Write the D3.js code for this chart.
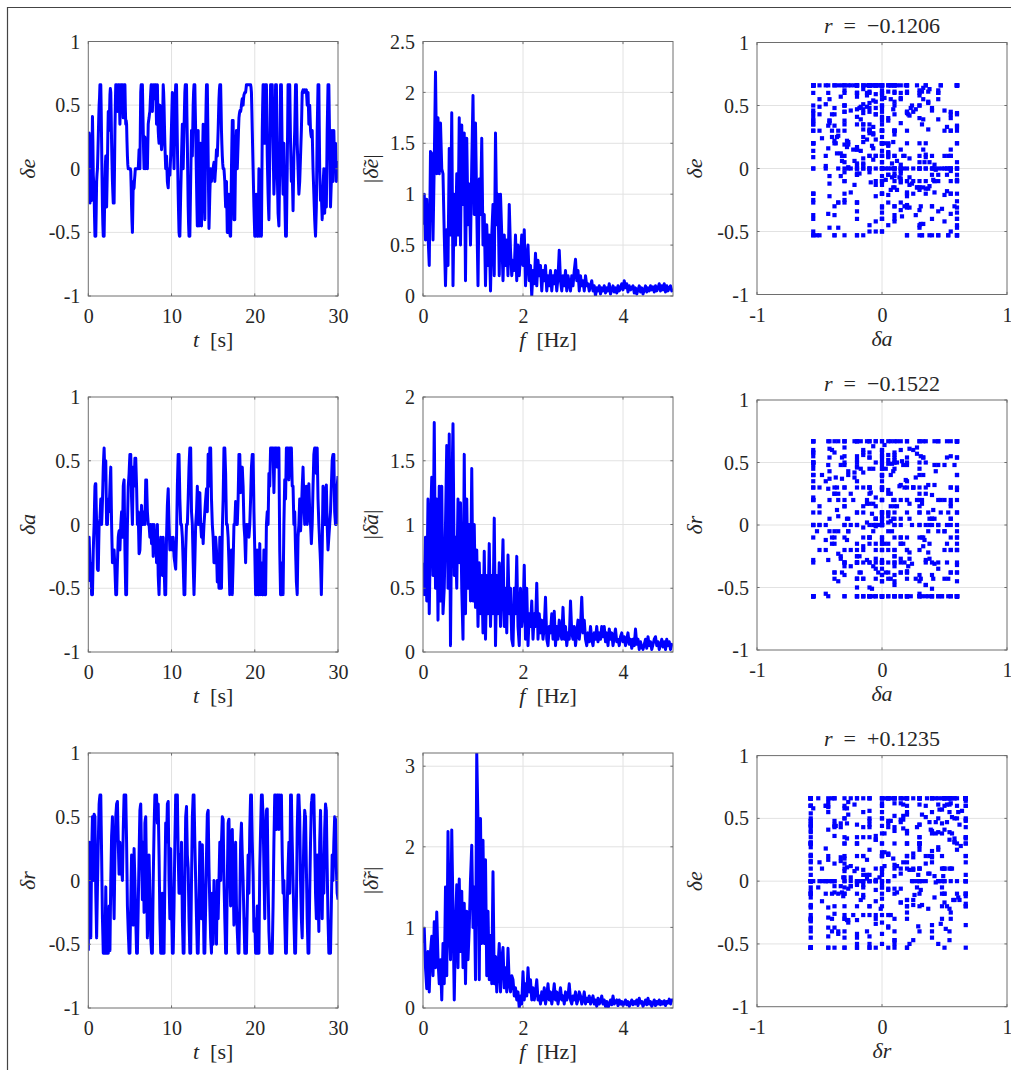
<!DOCTYPE html>
<html><head><meta charset="utf-8">
<script src="https://cdn.jsdelivr.net/npm/d3@7"></script>
<style>
body{margin:0;background:#fff;overflow:hidden}
svg text{font-family:"Liberation Serif","Times New Roman",serif;fill:#262626}
</style></head>
<body><svg id="c" width="1011" height="1070"></svg>
<script>
// ---------------- data ----------------
const timeStep = 0.05; // s
const deltaE = [
0,0.17,0.28,0.04,-0.27,-0.06,0.26,0.02,-0.25,0.14,0.41,0.22,-0.05,-0.11,-0.2,-0.38,-0.53,-0.53,-0.53,-0.33,
-0.1,-0.04,0,0.12,0.25,0.39,0.5,0.56,0.66,0.66,0.66,0.47,0.2,-0.07,-0.3,-0.44,-0.53,-0.53,-0.53,-0.32,
-0.1,0.03,0.1,-0.12,-0.3,-0.13,0.05,0.27,0.45,0.36,0.3,0.44,0.58,0.63,0.6,0.42,0.2,0.04,-0.1,-0.19,
-0.27,-0.27,-0.27,0.01,0.3,0.51,0.66,0.66,0.66,0.55,0.45,0.57,0.66,0.66,0.66,0.49,0.35,0.52,0.66,0.66,
0.66,0.66,0.66,0.53,0.4,0.55,0.66,0.66,0.66,0.48,0.35,0.38,0.35,0.21,0.1,0.03,0,0,0,0,
0,0,-0.02,-0.14,-0.3,-0.42,-0.5,-0.31,-0.1,-0.16,-0.15,-0.09,-0.05,0,0,0,0,0,0,0,
0,0.07,0.15,0.06,0,0.31,0.6,0.66,0.66,0.66,0.66,0.48,0.3,0.12,0,0.13,0.25,0.1,0,0.09,
0.2,0.08,0,0.18,0.35,0.38,0.4,0.43,0.45,0.53,0.6,0.66,0.66,0.54,0.45,0.58,0.66,0.6,0.55,0.61,
0.66,0.66,0.66,0.49,0.35,0.51,0.66,0.47,0.3,0.24,0.2,0.36,0.5,0.41,0.3,0.21,0.15,0.19,0.25,0.46,
0.66,0.6,0.5,0.34,0.2,0.09,0,0.06,0.1,0,-0.1,-0.13,-0.15,-0.07,0,-0.03,-0.05,0.03,0.1,0.23,
0.35,0.48,0.6,0.44,0.3,0.14,0,0.22,0.45,0.57,0.66,0.66,0.66,0.43,0.2,-0.01,-0.2,-0.36,-0.5,-0.53,
-0.53,-0.37,-0.2,-0.06,0.1,0.23,0.35,0.17,0,0.16,0.3,0.46,0.6,0.66,0.66,0.66,0.66,0.41,0.2,-0.06,
-0.3,-0.44,-0.53,-0.53,-0.53,-0.31,-0.1,0.11,0.3,0.19,0.1,0.31,0.5,0.6,0.66,0.66,0.66,0.47,0.3,0.09,
-0.1,-0.29,-0.45,-0.08,0.3,-0.09,-0.45,-0.27,-0.1,0.06,0.2,-0.13,-0.45,-0.22,0,0.18,0.35,0.16,0,-0.21,
-0.4,-0.04,0.3,0.5,0.66,0.66,0.66,0.39,0.1,-0.19,-0.47,-0.34,-0.2,-0.09,0,-0.05,-0.1,-0.04,0,0,
0,0.03,0.05,-0.03,-0.1,-0.04,0,0.08,0.15,0.12,0.1,0.2,0.3,0.43,0.55,0.62,0.66,0.66,0.66,0.49,
0.3,0.19,0.1,0.04,0,0,0,-0.05,-0.1,-0.21,-0.3,-0.19,-0.1,-0.31,-0.5,-0.5,-0.5,-0.34,-0.2,-0.36,
-0.5,-0.53,-0.53,-0.27,0,0.2,0.38,0.38,0.38,0,-0.4,-0.4,-0.4,-0.15,0.1,0.21,0.3,0.14,0,0.1,
0.2,0.31,0.4,0.43,0.45,0.46,0.45,0.47,0.5,0.53,0.55,0.52,0.5,0.55,0.58,0.59,0.6,0.6,0.6,0.63,
0.66,0.66,0.66,0.66,0.66,0.66,0.66,0.66,0.66,0.66,0.66,0.64,0.6,0.46,0.3,0.15,0,-0.15,-0.3,-0.42,
-0.53,-0.53,-0.53,-0.37,-0.2,-0.37,-0.53,-0.53,-0.53,-0.27,0,-0.27,-0.53,-0.47,-0.4,-0.47,-0.53,-0.12,0.3,0.5,
0.66,0.66,0.66,0.43,0.2,0.44,0.66,0.66,0.66,0.38,0.1,-0.05,-0.2,-0.31,-0.4,-0.16,0.1,0.39,0.66,0.66,
0.66,0.66,0.66,0.44,0.2,0,-0.2,-0.1,0,0.34,0.66,0.66,0.66,0.33,0,-0.18,-0.35,-0.4,-0.45,-0.22,
0,0.34,0.66,0.66,0.66,0.38,0.1,-0.06,-0.2,0,0.2,0,-0.2,-0.37,-0.53,-0.53,-0.53,-0.26,0,0.33,
0.66,0.66,0.66,0.66,0.66,0.43,0.2,0.05,-0.1,-0.05,0,-0.17,-0.33,-0.11,0.1,0.2,0.3,0.48,0.66,0.66,
0.66,0.43,0.2,0.1,0,-0.1,-0.2,-0.15,-0.1,0,0.1,0.2,0.3,0.45,0.6,0.61,0.62,0.61,0.6,0.61,
0.62,0.61,0.6,0.61,0.62,0.56,0.5,0.55,0.6,0.48,0.35,0.43,0.5,0.4,0.3,0.27,0.25,0.28,0.3,0.15,
0,-0.1,-0.2,-0.3,-0.4,-0.47,-0.53,-0.42,-0.3,0,0.3,0.48,0.66,0.66,0.66,0.33,0,-0.13,-0.25,-0.22,
-0.2,-0.3,-0.4,-0.27,-0.15,-0.07,0,-0.17,-0.35,-0.17,0,-0.15,-0.3,0,0.3,0.48,0.66,0.66,0.66,0.43,
0.2,-0.05,-0.3,-0.2,-0.1,0.1,0.3,0.1,-0.1,0.1,0.3,0.15,0,0.1,0.2,0.05,-0.1,-0.02,0.05,0.05,
0.05];
const deltaA = [
-0.45,-0.28,-0.1,-0.2,-0.3,-0.33,-0.35,-0.45,-0.55,-0.55,-0.55,-0.38,-0.2,-0.09,0,0.16,0.3,0.32,0.32,0.15,
0,-0.18,-0.35,-0.36,-0.36,-0.17,0,0.02,0.05,0.12,0.2,0.09,0,0.08,0.18,0.31,0.45,0.53,0.6,0.48,
0.35,0.42,0.5,0.24,0,0,0,0.1,0.2,0.15,0.1,0.2,0.3,0.38,0.45,0.22,0,-0.15,-0.3,-0.25,
-0.2,-0.2,-0.2,-0.27,-0.35,-0.45,-0.55,-0.55,-0.55,-0.42,-0.3,-0.2,-0.1,-0.07,-0.05,-0.12,-0.2,-0.1,0,0.05,
0.1,0,-0.1,0.1,0.3,0.33,0.35,0.07,-0.2,-0.38,-0.55,-0.55,-0.55,-0.27,0,0.15,0.3,0.35,0.4,0.48,
0.55,0.55,0.55,0.38,0.2,0.1,0,0.22,0.45,0.37,0.3,0.41,0.52,0.52,0.52,0.41,0.3,0.15,0,0.05,
0.1,-0.07,-0.23,-0.22,-0.2,-0.1,0,0.07,0.15,0.07,0,0,0,0.05,0.1,0.05,0,0.17,0.35,0.35,
0.35,0.22,0.1,0.05,0,0,0,-0.05,-0.1,-0.05,0,-0.08,-0.15,-0.07,0,-0.12,-0.25,-0.12,0,-0.1,
-0.2,-0.12,-0.05,-0.17,-0.3,-0.15,0,-0.2,-0.4,-0.48,-0.55,-0.42,-0.3,-0.2,-0.1,-0.15,-0.2,-0.3,-0.4,-0.25,
-0.1,-0.2,-0.3,-0.43,-0.55,-0.55,-0.55,-0.32,-0.1,0.03,0.15,0.22,0.28,0.14,0,-0.1,-0.2,-0.15,-0.1,-0.12,
-0.15,-0.18,-0.2,-0.15,-0.1,-0.17,-0.25,-0.28,-0.3,-0.33,-0.35,-0.22,-0.1,0.1,0.3,0.43,0.55,0.55,0.55,0.38,
0.2,0.1,0,0,0,-0.05,-0.1,-0.2,-0.3,-0.43,-0.55,-0.55,-0.55,-0.38,-0.2,-0.1,0,0,0,0.1,
0.2,0.33,0.45,0.53,0.6,0.6,0.6,0.35,0.1,0.05,0,-0.15,-0.3,-0.43,-0.55,-0.43,-0.3,-0.15,0,0.05,
0.1,0.2,0.3,0.15,0,0.03,0.05,0.15,0.25,0.12,0,-0.05,-0.1,-0.05,0,-0.08,-0.15,-0.07,0,0.05,
0.1,0.15,0.2,0.24,0.28,0.19,0.1,0.33,0.55,0.42,0.3,0.45,0.6,0.6,0.6,0.4,0.2,0.1,0,-0.05,
-0.1,-0.2,-0.3,-0.3,-0.3,-0.2,-0.1,-0.15,-0.2,-0.33,-0.45,-0.38,-0.3,-0.4,-0.5,-0.3,-0.1,-0.3,-0.5,-0.5,
-0.5,-0.27,-0.05,0.08,0.2,0.4,0.6,0.6,0.6,0.5,0.4,0.2,0,0,0,-0.05,-0.1,-0.2,-0.3,-0.43,
-0.55,-0.52,-0.5,-0.35,-0.2,-0.37,-0.55,-0.42,-0.3,-0.15,0,0,0,0.09,0.18,0.09,0,0,0,0.1,
0.2,0.37,0.55,0.55,0.55,0.4,0.25,0.27,0.3,0.37,0.45,0.37,0.3,0.15,0,-0.05,-0.1,-0.2,-0.3,-0.15,
0,-0.03,-0.05,-0.02,0,-0.05,-0.1,-0.05,0,0.1,0.2,0.33,0.45,0.5,0.55,0.55,0.55,0.33,0.1,-0.05,
-0.2,-0.38,-0.55,-0.55,-0.55,-0.38,-0.2,-0.38,-0.55,-0.55,-0.55,-0.35,-0.15,-0.35,-0.55,-0.42,-0.3,-0.42,-0.55,-0.55,
-0.55,-0.38,-0.2,-0.38,-0.55,-0.55,-0.55,-0.27,0,0.05,0.1,0.05,0,0.2,0.4,0.35,0.3,0.45,0.6,0.6,
0.6,0.6,0.6,0.6,0.6,0.42,0.25,0.42,0.6,0.6,0.6,0.6,0.6,0.52,0.45,0.52,0.6,0.6,0.6,0.2,
-0.2,-0.38,-0.55,-0.55,-0.55,-0.42,-0.3,-0.42,-0.55,-0.27,0,0.17,0.35,0.27,0.2,0.4,0.6,0.6,0.6,0.6,
0.6,0.47,0.35,0.47,0.6,0.6,0.6,0.6,0.6,0.45,0.3,0.3,0.3,0.15,0,0.05,0.1,-0.05,-0.2,-0.32,
-0.45,-0.5,-0.55,-0.32,-0.1,-0.05,0,0.1,0.2,0.07,-0.05,0.02,0.1,0.2,0.3,0.37,0.45,0.32,0.2,0.1,
0,0.05,0.1,0.2,0.3,0.15,0,0.07,0.15,0.23,0.32,0.21,0.1,0.05,0,-0.07,-0.15,-0.07,0,0.15,
0.3,0.42,0.55,0.58,0.6,0.6,0.6,0.5,0.4,0.5,0.6,0.4,0.2,0.1,0,-0.07,-0.15,-0.22,-0.3,-0.42,
-0.55,-0.38,-0.2,0.05,0.3,0.22,0.15,0.07,0,0.12,0.25,0.28,0.31,0.15,0,-0.1,-0.2,-0.15,-0.1,-0.05,
0,0.05,0.1,0.2,0.3,0.4,0.5,0.53,0.55,0.55,0.55,0.33,0.1,0.05,0,0,0,0.15,0.3,0.34,
0.38];
const deltaR = [
-0.55,-0.12,0.3,0.1,-0.1,-0.27,-0.45,-0.12,0.2,0.35,0.5,0.25,0,0.26,0.52,0.51,0.5,0.2,-0.1,-0.27,
-0.45,-0.25,-0.05,0.12,0.3,0.45,0.6,0.64,0.67,0.67,0.67,0.43,0.2,-0.05,-0.3,-0.43,-0.57,-0.57,-0.57,-0.57,
-0.57,-0.31,-0.05,-0.31,-0.57,-0.57,-0.57,-0.57,-0.57,-0.38,-0.2,-0.37,-0.55,-0.27,0,0.17,0.35,0.42,0.5,0.25,
0,-0.15,-0.3,-0.05,0.2,0.35,0.5,0.55,0.6,0.61,0.62,0.46,0.3,0.17,0.05,0.17,0.3,0.17,0.05,0.07,
0.1,0.05,0,0.2,0.4,0.54,0.67,0.67,0.67,0.67,0.67,0.48,0.3,0.05,-0.2,-0.3,-0.4,-0.48,-0.57,-0.57,
-0.57,-0.38,-0.2,0,0.2,0,-0.2,-0.27,-0.35,-0.05,0.25,0.12,0,-0.15,-0.3,-0.43,-0.57,-0.57,-0.57,-0.38,
-0.2,0,0.2,0.38,0.55,0.58,0.6,0.4,0.2,0.03,-0.15,0.07,0.3,0.02,-0.25,0.1,0.45,0.48,0.5,0.25,
0,-0.22,-0.45,-0.3,-0.15,0.02,0.2,0.05,-0.1,-0.27,-0.45,-0.51,-0.57,-0.57,-0.57,-0.28,0,0.2,0.4,0.54,
0.67,0.67,0.67,0.67,0.67,0.56,0.45,0.52,0.6,0.4,0.2,-0.05,-0.3,-0.43,-0.57,-0.57,-0.57,-0.33,-0.1,-0.33,
-0.57,-0.57,-0.57,-0.28,0,0.22,0.45,0.37,0.3,0.45,0.6,0.61,0.62,0.31,0,-0.15,-0.3,-0.02,0.25,0.02,
-0.2,-0.38,-0.57,-0.57,-0.57,-0.38,-0.2,0.05,0.3,0.48,0.67,0.67,0.67,0.67,0.67,0.43,0.2,0.05,-0.1,0.05,
0.2,0.05,-0.1,0.1,0.3,0,-0.3,-0.43,-0.57,-0.57,-0.57,-0.28,0,0.25,0.5,0.54,0.58,0.39,0.2,0.15,
0.1,-0.1,-0.3,-0.43,-0.57,-0.57,-0.57,-0.28,0,0.25,0.5,0.58,0.67,0.67,0.67,0.48,0.3,0.15,0,-0.15,
-0.3,-0.43,-0.57,-0.57,-0.57,-0.38,-0.2,0.05,0.3,0.15,0,-0.15,-0.3,-0.01,0.28,0.09,-0.1,-0.33,-0.57,-0.57,
-0.57,-0.38,-0.2,0,0.2,0.36,0.52,0.54,0.55,0.32,0.1,-0.05,-0.2,-0.32,-0.45,-0.51,-0.57,-0.33,-0.1,-0.3,
-0.5,-0.25,0,-0.2,-0.4,-0.25,-0.1,-0.3,-0.5,-0.25,0,-0.15,-0.3,-0.15,0,0.15,0.3,0.15,0,0.15,
0.3,0.4,0.5,0.49,0.48,0.24,0,-0.15,-0.3,-0.43,-0.57,-0.57,-0.57,-0.28,0,0.22,0.45,0.47,0.48,0.29,
0.1,-0.05,-0.2,0.07,0.35,0.38,0.4,0.2,0,-0.17,-0.35,-0.12,0.1,0.2,0.3,0.05,-0.2,-0.3,-0.4,-0.48,
-0.57,-0.57,-0.57,-0.38,-0.2,0.05,0.3,0.38,0.45,0.32,0.2,0.1,0,-0.15,-0.3,-0.43,-0.57,-0.43,-0.3,-0.43,
-0.57,-0.38,-0.2,0,0.2,0.05,-0.1,0.15,0.4,0.54,0.67,0.67,0.67,0.48,0.3,0.17,0.05,-0.17,-0.4,-0.35,
-0.3,-0.43,-0.57,-0.57,-0.57,-0.38,-0.2,-0.38,-0.57,-0.57,-0.57,-0.23,0.1,0.25,0.4,0.54,0.67,0.67,0.67,0.58,
0.5,0.3,0.1,-0.1,-0.3,0,0.3,0.43,0.55,0.56,0.56,0.28,0,-0.2,-0.4,-0.48,-0.57,-0.57,-0.57,-0.57,
-0.57,-0.57,-0.57,-0.38,-0.2,0.05,0.3,0.48,0.67,0.67,0.67,0.54,0.4,0.54,0.67,0.67,0.67,0.54,0.4,0.54,
0.67,0.58,0.5,0.58,0.67,0.43,0.2,0.05,-0.1,-0.05,0,-0.15,-0.3,-0.43,-0.57,-0.57,-0.57,-0.38,-0.2,-0.05,
0.1,0.2,0.3,0.1,-0.1,0.28,0.67,0.67,0.67,0.48,0.3,0.15,0,-0.15,-0.3,-0.43,-0.57,-0.57,-0.57,-0.38,
-0.2,0.1,0.4,0.54,0.67,0.67,0.67,0.58,0.5,0.25,0,-0.15,-0.3,-0.38,-0.45,-0.22,0,0.17,0.35,0.45,
0.55,0.52,0.5,0.3,0.1,-0.1,-0.3,-0.43,-0.57,-0.57,-0.57,-0.33,-0.1,0.1,0.3,0.45,0.6,0.63,0.67,0.67,
0.67,0.67,0.67,0.48,0.3,0.1,-0.1,-0.2,-0.3,-0.05,0.2,0.05,-0.1,-0.25,-0.4,-0.05,0.3,0.42,0.55,0.37,
0.2,-0.05,-0.3,-0.05,0.2,0.05,-0.1,0.15,0.4,0.5,0.6,0.57,0.55,0.32,0.1,-0.1,-0.3,-0.43,-0.57,-0.57,
-0.57,-0.57,-0.57,-0.38,-0.2,0,0.2,0.1,0,0.15,0.3,0.4,0.5,0.49,0.48,0.29,0.1,0,-0.1,-0.12,
-0.15];

const freqStep = 0.025; // Hz
const specE = [
0.7,1.0,0.55,0.95,0.6,0.3,1.42,1.4,
0.55,1.3,2.2,1.2,1.75,1.2,1.7,1.25,
1.2,0.6,0.1,0.65,0.3,1.45,0.6,1.8,
0.1,1.0,0.5,1.2,0.6,1.75,0.5,1.68,
0.9,1.6,0.15,1.55,0.7,1.1,0.5,1.3,
1.97,0.8,1.7,0.85,0.1,1.15,0.8,1.55,
0.5,0.8,0.1,0.7,0.3,0.6,0.05,0.6,
0.9,0.2,1.6,0.7,1.0,0.2,1.0,0.6,
0.15,0.6,0.3,0.55,0.2,0.9,0.45,0.2,
0.35,0.25,0.6,0.15,0.5,0.2,0.4,0.6,
0.3,0.65,0.1,0.35,0.5,0.15,0.3,0.0,
0.25,0.12,0.42,0.1,0.35,0.2,0.3,0.05,
0.25,0.15,0.3,0.05,0.2,0.1,0.25,0.05,
0.2,0.12,0.25,0.05,0.18,0.45,0.15,0.05,
0.2,0.1,0.25,0.05,0.2,0.12,0.05,0.2,
0.1,0.25,0.36,0.15,0.25,0.05,0.2,0.1,
0.15,0.05,0.2,0.1,0.12,0.05,0.1,0.15,
0.05,0.1,0.0,0.08,0.05,0.1,0.02,0.08,
0.05,0.1,0.03,0.08,0.05,0.12,0.02,0.06,
0.1,0.04,0.08,0.03,0.1,0.05,0.08,0.12,
0.06,0.15,0.08,0.12,0.04,0.1,0.06,0.08,
0.1,0.03,0.08,0.02,0.06,0.1,0.04,0.08,
0.02,0.06,0.1,0.04,0.08,0.05,0.1,0.06,
0.09,0.04,0.1,0.05,0.08,0.12,0.05,0.1,
0.06,0.12,0.04,0.1,0.05,0.08,0.1,0.05,
0.07];
const specA = [
0.7,0.45,0.9,0.4,1.2,0.3,1.0,1.37,
0.6,1.8,0.5,1.2,0.25,1.3,0.4,1.3,
0.3,0.5,1.0,1.62,0.5,1.71,0.05,1.2,
1.79,0.6,0.9,0.5,1.2,0.7,1.17,0.5,
0.1,1.55,0.3,1.2,0.5,1.0,0.4,1.44,
0.4,1.0,0.35,0.8,0.2,0.7,0.3,0.6,
0.15,0.79,0.1,0.6,0.3,0.85,0.2,0.6,
0.3,1.05,0.05,0.6,0.3,0.7,0.2,0.5,
0.88,0.2,0.5,0.15,0.76,0.3,0.5,0.1,
0.05,0.5,0.3,0.75,0.2,0.05,0.5,0.2,
0.3,0.68,0.1,0.5,0.05,0.3,0.2,0.4,
0.1,0.3,0.2,0.54,0.1,0.3,0.15,0.25,
0.1,0.2,0.43,0.1,0.05,0.2,0.15,0.3,
0.1,0.32,0.05,0.2,0.1,0.25,0.15,0.1,
0.35,0.1,0.2,0.05,0.15,0.1,0.4,0.15,
0.1,0.2,0.05,0.15,0.25,0.1,0.2,0.43,
0.15,0.25,0.1,0.05,0.15,0.08,0.2,0.1,
0.05,0.15,0.1,0.2,0.08,0.15,0.1,0.2,
0.12,0.2,0.08,0.15,0.05,0.18,0.1,0.15,
0.05,0.12,0.18,0.08,0.1,0.05,0.12,0.15,
0.08,0.12,0.05,0.1,0.15,0.06,0.1,0.03,
0.1,0.05,0.18,0.06,0.1,0.02,0.08,0.04,
0.02,0.06,0.1,0.03,0.12,0.05,0.08,0.02,
0.06,0.1,0.12,0.05,0.08,0.02,0.06,0.1,
0.04,0.08,0.02,0.1,0.05,0.08,0.02,0.06,
0.05];
const specR = [
0.8,0.99,0.5,0.24,0.7,0.2,0.7,0.89,
0.4,1.07,0.5,1.19,0.6,0.3,0.6,0.1,
0.8,0.3,1.5,0.4,2.19,1.0,0.6,2.21,
1.2,0.1,1.0,1.53,0.5,1.6,0.7,1.45,
0.5,1.3,0.3,1.2,0.6,1.0,1.6,2.02,
1.0,1.5,0.35,3.16,2.3,0.35,2.35,0.8,
2.08,0.8,1.84,0.4,1.2,0.35,0.9,0.3,
1.69,0.3,0.64,0.2,0.5,0.8,0.2,0.6,
0.75,0.25,0.5,0.2,0.74,0.3,0.2,0.4,
0.35,0.15,0.25,0.1,0.2,0.0,0.15,0.05,
0.45,0.1,0.3,0.15,0.5,0.2,0.35,0.1,
0.25,0.1,0.2,0.35,0.1,0.15,0.05,0.2,
0.1,0.25,0.05,0.15,0.3,0.1,0.2,0.05,
0.15,0.3,0.1,0.2,0.05,0.15,0.25,0.1,
0.15,0.05,0.2,0.1,0.15,0.3,0.1,0.05,
0.15,0.1,0.2,0.05,0.1,0.2,0.15,0.05,
0.1,0.2,0.05,0.12,0.08,0.15,0.05,0.1,
0.15,0.05,0.1,0.02,0.12,0.05,0.08,0.15,
0.05,0.1,0.02,0.08,0.0,0.05,0.1,0.04,
0.15,0.05,0.08,0.1,0.03,0.1,0.05,0.08,
0.03,0.06,0.1,0.04,0.08,0.02,0.06,0.1,
0.04,0.08,0.05,0.1,0.03,0.12,0.06,0.08,
0.02,0.06,0.1,0.04,0.12,0.05,0.08,0.02,
0.06,0.1,0.03,0.08,0.05,0.1,0.04,0.08,
0.05,0.09,0.03,0.08,0.06,0.11,0.05,0.1,
0.1];

const timeTicks = [0,10,20,30];
const valueTicks = [-1,-0.5,0,0.5,1];
const freqTicks = [0,2,4];
const specTicksE = [0,0.5,1,1.5,2,2.5];
const specTicksA = [0,0.5,1,1.5,2];
const specTicksR = [0,1,2,3];
const scatterXTicks = [-1,0,1];
const corrTitles = ["\u22120.1206", "\u22120.1522", "+0.1235"];

// ---------------- drawing ----------------
const svg = d3.select("#c");
const BLUE = "#0000ff";
const FS = 20;   // tick labels
const LFS = 22;  // axis labels / titles

svg.append("path").attr("d","M7.5,1075 L7.5,7.5 L1020,7.5")
   .attr("fill","none").attr("stroke","#444").attr("stroke-width",1.2);

let clipId = 0;
function fmt(d){ return String(d); }

function panel(o){
  const g = svg.append("g");
  const x = d3.scaleLinear().domain(o.xDomain).range([o.x0, o.x1]);
  const y = d3.scaleLinear().domain(o.yDomain).range([o.y1, o.y0]);
  g.append("g").selectAll("line").data(o.xTicks.filter(d=>d>o.xDomain[0]&&d<o.xDomain[1])).join("line")
    .attr("x1",d=>x(d)).attr("x2",d=>x(d)).attr("y1",o.y0).attr("y2",o.y1)
    .attr("stroke","#e2e2e2").attr("stroke-width",1);
  g.append("g").selectAll("line").data(o.yTicks.filter(d=>d>o.yDomain[0]&&d<o.yDomain[1])).join("line")
    .attr("y1",d=>y(d)).attr("y2",d=>y(d)).attr("x1",o.x0).attr("x2",o.x1)
    .attr("stroke","#e2e2e2").attr("stroke-width",1);
  const id = "clip"+(clipId++);
  svg.append("clipPath").attr("id",id).append("rect")
    .attr("x",o.x0).attr("y",o.y0).attr("width",o.x1-o.x0).attr("height",o.y1-o.y0);
  const dg = g.append("g").attr("clip-path","url(#"+id+")");
  o.draw(dg, x, y);
  g.append("rect").attr("x",o.x0).attr("y",o.y0).attr("width",o.x1-o.x0).attr("height",o.y1-o.y0)
    .attr("fill","none").attr("stroke","#6e6e6e").attr("stroke-width",1);
  const tl = 2.6;
  const tg = g.append("g").attr("stroke","#6e6e6e").attr("stroke-width",1);
  tg.selectAll(".tb").data(o.xTicks).join("line").attr("x1",d=>x(d)).attr("x2",d=>x(d)).attr("y1",o.y1).attr("y2",o.y1-tl);
  tg.selectAll(".tt").data(o.xTicks).join("line").attr("x1",d=>x(d)).attr("x2",d=>x(d)).attr("y1",o.y0).attr("y2",o.y0+tl);
  tg.selectAll(".tl").data(o.yTicks).join("line").attr("y1",d=>y(d)).attr("y2",d=>y(d)).attr("x1",o.x0).attr("x2",o.x0+tl);
  tg.selectAll(".tr").data(o.yTicks).join("line").attr("y1",d=>y(d)).attr("y2",d=>y(d)).attr("x1",o.x1).attr("x2",o.x1-tl);
  const ax = g.append("g").attr("transform","translate(0,"+o.y1+")")
    .call(d3.axisBottom(x).tickValues(o.xTicks).tickSize(0).tickPadding(8).tickFormat(fmt));
  const ay = g.append("g").attr("transform","translate("+o.x0+",0)")
    .call(d3.axisLeft(y).tickValues(o.yTicks).tickSize(0).tickPadding(8).tickFormat(fmt));
  [ax,ay].forEach(a=>{
    a.select(".domain").remove();
    a.attr("font-family",null).attr("font-size",null);
    a.selectAll("text").attr("font-size",FS).attr("fill","#262626");
  });
  ax.selectAll("text").attr("dy","0.95em");
  ay.selectAll("text").attr("dy","0.33em");
  const xl = g.append("text").attr("x",(o.x0+o.x1)/2).attr("y",o.y1+o.xLabelOff)
    .attr("text-anchor","middle").attr("font-size",LFS);
  o.xLabel(xl);
  const yl = g.append("text").attr("transform","translate("+(o.x0-o.yLabelOff)+","+((o.y0+o.y1)/2)+") rotate(-90)")
    .attr("text-anchor","middle").attr("font-size",LFS);
  o.yLabel(yl);
  if (o.title){
    const t = g.append("text").attr("x",(o.x0+o.x1)/2).attr("y",o.y0-9.5)
      .attr("text-anchor","middle").attr("font-size",LFS);
    o.title(t);
  }
}

function lineDraw(values, step){
  return (dg,x,y)=>{
    dg.append("path").datum(values)
      .attr("d", d3.line().x((d,i)=>x(i*step)).y(d=>y(d)))
      .attr("fill","none").attr("stroke",BLUE).attr("stroke-width",3)
      .attr("stroke-linejoin","round");
  };
}
function scatterDraw(xs, ys){
  const pts = xs.map((v,i)=>[v, ys[i]]);
  return (dg,x,y)=>{
    dg.selectAll("rect").data(pts).join("rect")
      .attr("x",d=>x(d[0])-2.1).attr("y",d=>y(d[1])-2.1)
      .attr("width",4.2).attr("height",4.2).attr("fill",BLUE);
  };
}
function mathLabel(parts){
  return t=>{ parts.forEach(p=>{ t.append("tspan").attr("font-style",p[1]?"italic":"normal").text(p[0]); }); };
}
const tLabel = mathLabel([["t",1],["\u2002[s]",0]]);
const fLabel = mathLabel([["f",1],["\u2002[Hz]",0]]);
function dl(s){ return mathLabel([["\u03b4"+s,1]]); }
function sl(s){ return mathLabel([["|",0],["\u03b4\u0303"+s,1],["|",0]]); }
function titleLabel(v){ return mathLabel([["r",1],["\u2002=\u2002"+v,0]]); }

const cols = [[88.3,338],[423,673],[757,1007]];
const rows = [[41.5,296],[397,652],[753,1008]];
const srows = [[42.5,294.5],[400,650],[755.6,1006.7]];
const series = [deltaE, deltaA, deltaR];
const names = ["e","a","r"];
const specs = [specE, specA, specR];
const specDomains = [[0,2.5],[0,2],[0,3.164]];
const specTicks = [specTicksE, specTicksA, specTicksR];
const scatterPairs = [[deltaA,deltaE,"a","e"],[deltaA,deltaR,"a","r"],[deltaR,deltaE,"r","e"]];

for (let r=0;r<3;r++){
  panel({x0:cols[0][0],x1:cols[0][1],y0:rows[r][0],y1:rows[r][1],
    xDomain:[0,30],yDomain:[-1,1],xTicks:timeTicks,yTicks:valueTicks,
    draw:lineDraw(series[r], timeStep), xLabel:tLabel, yLabel:dl(names[r]),
    xLabelOff:51, yLabelOff:53});
  panel({x0:cols[1][0],x1:cols[1][1],y0:rows[r][0],y1:rows[r][1],
    xDomain:[0,5],yDomain:specDomains[r],xTicks:freqTicks,yTicks:specTicks[r],
    draw:lineDraw(specs[r], freqStep), xLabel:fLabel, yLabel:sl(names[r]),
    xLabelOff:51, yLabelOff:45});
  const sp = scatterPairs[r];
  panel({x0:cols[2][0],x1:cols[2][1],y0:srows[r][0],y1:srows[r][1],
    xDomain:[-1,1],yDomain:[-1,1],xTicks:scatterXTicks,yTicks:valueTicks,
    draw:scatterDraw(sp[0], sp[1]), xLabel:dl(sp[2]), yLabel:dl(sp[3]),
    xLabelOff:51, yLabelOff:55, title:titleLabel(corrTitles[r])});
}
</script></body></html>
